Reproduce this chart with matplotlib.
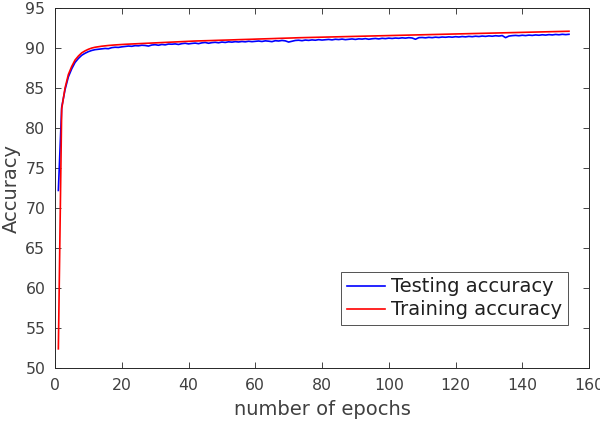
import matplotlib.pyplot as plt
import numpy as np

# accuracy per epoch
training_acc = [
    52.4, 82.4, 85.0, 86.7, 87.7, 88.5, 89.0, 89.4, 89.65, 89.85,
    90.0, 90.1, 90.17, 90.23, 90.28, 90.32, 90.36, 90.39, 90.42, 90.45,
    90.47, 90.49, 90.51, 90.53, 90.55, 90.57, 90.59, 90.61, 90.63, 90.65,
    90.67, 90.69, 90.71, 90.73, 90.75, 90.77, 90.79, 90.81, 90.83, 90.85,
    90.86, 90.88, 90.89, 90.90, 90.92, 90.93, 90.94, 90.96, 90.97, 90.98,
    91.00, 91.01, 91.02, 91.04, 91.05, 91.06, 91.08, 91.09, 91.10, 91.12,
    91.13, 91.14, 91.16, 91.17, 91.18, 91.20, 91.21, 91.22, 91.24, 91.25,
    91.26, 91.28, 91.29, 91.30, 91.31, 91.32, 91.33, 91.34, 91.35, 91.36,
    91.37, 91.38, 91.39, 91.40, 91.41, 91.42, 91.43, 91.44, 91.45, 91.46,
    91.47, 91.48, 91.49, 91.50, 91.51, 91.52, 91.53, 91.54, 91.55, 91.56,
    91.57, 91.58, 91.59, 91.60, 91.61, 91.62, 91.63, 91.64, 91.65, 91.66,
    91.67, 91.68, 91.69, 91.70, 91.71, 91.72, 91.73, 91.74, 91.75, 91.76,
    91.77, 91.78, 91.79, 91.80, 91.81, 91.82, 91.83, 91.84, 91.85, 91.86,
    91.87, 91.88, 91.89, 91.90, 91.91, 91.92, 91.93, 91.94, 91.95, 91.96,
    91.97, 91.98, 91.99, 92.00, 92.01, 92.02, 92.03, 92.04, 92.05, 92.06,
    92.07, 92.08, 92.09, 92.10,
]

testing_acc = [
    72.2, 82.6, 84.8, 86.4, 87.4, 88.2, 88.7, 89.1, 89.35, 89.55,
    89.7, 89.8, 89.85, 89.9, 89.95, 89.92, 90.05, 90.1, 90.08, 90.15,
    90.2, 90.25, 90.22, 90.3, 90.28, 90.35, 90.32, 90.25, 90.38, 90.42,
    90.35, 90.45, 90.4, 90.5, 90.48, 90.52, 90.45, 90.55, 90.6, 90.52,
    90.58, 90.62, 90.55, 90.65, 90.7, 90.6, 90.68, 90.72, 90.66, 90.75,
    90.7, 90.78, 90.74, 90.8, 90.76, 90.82, 90.78, 90.85, 90.8, 90.84,
    90.88, 90.82, 90.9, 90.86, 90.8, 90.92, 90.88, 90.95, 90.9, 90.75,
    90.85, 90.95, 90.98, 90.92, 91.0, 90.96, 91.02, 90.98, 91.05, 91.0,
    91.04, 91.08, 91.02, 91.1, 91.06, 91.12, 91.05, 91.1, 91.14, 91.08,
    91.15, 91.12, 91.18, 91.1, 91.16, 91.2, 91.14, 91.22, 91.18, 91.24,
    91.2, 91.25, 91.22, 91.28, 91.24, 91.3, 91.26, 91.1, 91.3, 91.32,
    91.28, 91.34, 91.3, 91.36, 91.32, 91.38, 91.35, 91.4, 91.36, 91.42,
    91.38, 91.44, 91.4, 91.46, 91.42, 91.48, 91.44, 91.5, 91.46, 91.52,
    91.48, 91.54, 91.5, 91.56, 91.3, 91.5, 91.55, 91.58, 91.54, 91.6,
    91.56, 91.62, 91.58, 91.64, 91.6, 91.66, 91.62, 91.68, 91.64, 91.7,
    91.66, 91.72, 91.68, 91.72,
]

epochs = np.arange(1, len(training_acc) + 1)

txt = '#404040'

fig = plt.figure(figsize=(6, 4.24), dpi=100)
ax = fig.add_axes([0.0917, 0.132, 0.89, 0.849])

ax.plot(epochs, testing_acc, color=(0, 0, 1), lw=1.2, label='Testing accuracy')
ax.plot(epochs, training_acc, color=(1, 0, 0), lw=1.2, label='Training accuracy')

ax.set_xlim(0, 160)
ax.set_ylim(50, 95)
ax.set_xticks(range(0, 161, 20))
ax.set_yticks(range(50, 96, 5))
ax.tick_params(direction='in', top=True, right=True, labelsize=11.3,
               labelcolor=txt, color='#262626', length=4.5, width=0.6, pad=7)
for s in ax.spines.values():
    s.set_linewidth(0.7)
    s.set_color('#262626')

ax.set_xlabel('number of epochs', fontsize=14, color=txt, labelpad=5)
ax.set_ylabel('Accuracy', fontsize=14, color=txt, labelpad=3)

leg = ax.legend(loc='lower right', bbox_to_anchor=(0.961, 0.119), fontsize=14,
                fancybox=False, handlelength=2.0, borderpad=0.3,
                labelspacing=0.2, handletextpad=0.3, borderaxespad=0)
leg.get_frame().set_edgecolor('#262626')
leg.get_frame().set_linewidth(0.7)
for t in leg.get_texts():
    t.set_color('#202020')

plt.savefig('out.png', dpi=100)
